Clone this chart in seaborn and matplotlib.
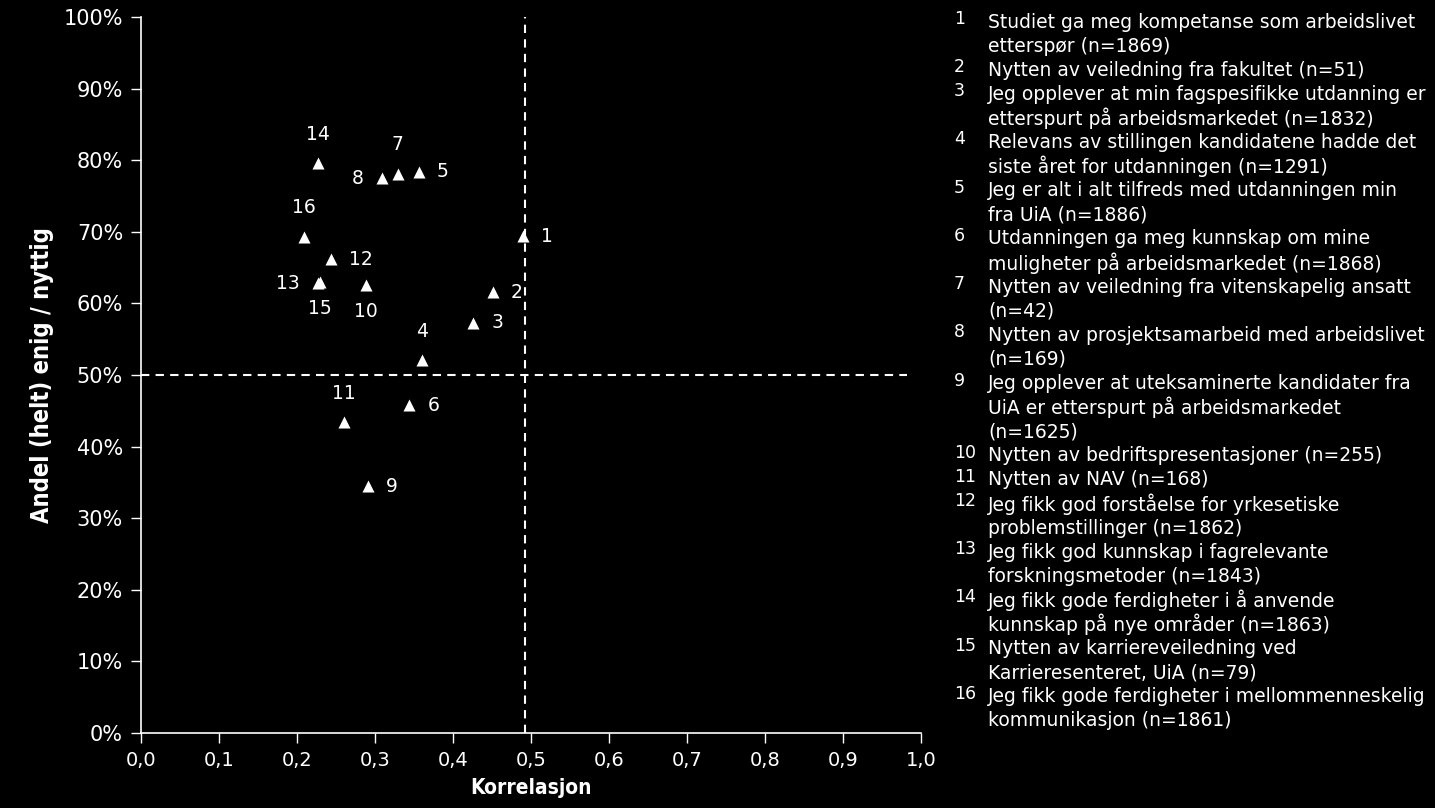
import pandas as pd
import seaborn as sns
import matplotlib.pyplot as plt
from matplotlib.ticker import PercentFormatter, FuncFormatter

# verdier lest av figuren
nummer = list(range(1, 17))
korrelasjon = [0.490, 0.451, 0.426, 0.360, 0.356, 0.344, 0.329, 0.309,
               0.291, 0.288, 0.260, 0.244, 0.227, 0.227, 0.229, 0.209]
andel_enig = [0.694, 0.616, 0.573, 0.521, 0.784, 0.458, 0.781, 0.775,
              0.345, 0.626, 0.434, 0.662, 0.628, 0.796, 0.630, 0.693]
beskrivelser = [
    'Studiet ga meg kompetanse som arbeidslivet\netterspør (n=1869)',
    'Nytten av veiledning fra fakultet (n=51)',
    'Jeg opplever at min fagspesifikke utdanning er\netterspurt på arbeidsmarkedet (n=1832)',
    'Relevans av stillingen kandidatene hadde det\nsiste året for utdanningen (n=1291)',
    'Jeg er alt i alt tilfreds med utdanningen min\nfra UiA (n=1886)',
    'Utdanningen ga meg kunnskap om mine\nmuligheter på arbeidsmarkedet (n=1868)',
    'Nytten av veiledning fra vitenskapelig ansatt\n(n=42)',
    'Nytten av prosjektsamarbeid med arbeidslivet\n(n=169)',
    'Jeg opplever at uteksaminerte kandidater fra\nUiA er etterspurt på arbeidsmarkedet\n(n=1625)',
    'Nytten av bedriftspresentasjoner (n=255)',
    'Nytten av NAV (n=168)',
    'Jeg fikk god forståelse for yrkesetiske\nproblemstillinger (n=1862)',
    'Jeg fikk god kunnskap i fagrelevante\nforskningsmetoder (n=1843)',
    'Jeg fikk gode ferdigheter i å anvende\nkunnskap på nye områder (n=1863)',
    'Nytten av karriereveiledning ved\nKarrieresenteret, UiA (n=79)',
    'Jeg fikk gode ferdigheter i mellommenneskelig\nkommunikasjon (n=1861)',
]
# hvor etiketten står i forhold til punktet
plassering = ['h', 'h', 'h', 'o', 'h', 'h', 'o', 'v',
              'h', 'u', 'o', 'h', 'v', 'o', 'u', 'o']

df = pd.DataFrame({'nr': nummer, 'korr': korrelasjon, 'andel': andel_enig})

sns.set_style('dark', rc={'axes.facecolor': 'black', 'figure.facecolor': 'black',
                          'axes.edgecolor': 'white', 'text.color': 'white',
                          'xtick.color': 'white', 'ytick.color': 'white',
                          'axes.labelcolor': 'white'})
plt.rcParams['font.family'] = ['DejaVu Sans']

fig = plt.figure(figsize=(14.35, 8.08), dpi=100)
ax = fig.add_axes([0.0983, 0.0928, 0.5435, 0.886])

sns.scatterplot(data=df, x='korr', y='andel', marker='^', color='white',
                s=75, linewidth=0, ax=ax, zorder=3)

# skillelinjer
ax.axvline(0.492, color='white', ls=(0, (4, 3)), lw=1.5, zorder=2)
ax.plot([0, 0.982], [0.5, 0.5], color='white', ls=(0, (4, 3)), lw=1.5, zorder=2)

offsets = {'h': ((13, 0), 'left', 'center'), 'v': ((-13, 0), 'right', 'center'),
           'o': ((0, 14), 'center', 'bottom'), 'u': ((0, -12), 'center', 'top')}
for nr, x, y, p in zip(nummer, korrelasjon, andel_enig, plassering):
    off, ha, va = offsets[p]
    ax.annotate(str(nr), (x, y), xytext=off, textcoords='offset points',
                ha=ha, va=va, fontsize=13.5, color='white')

ax.set_xlim(0, 1)
ax.set_ylim(0, 1)
ax.set_xticks([i / 10 for i in range(11)])
ax.set_yticks([i / 10 for i in range(11)])
ax.xaxis.set_major_formatter(FuncFormatter(lambda v, _: f'{v:.1f}'.replace('.', ',')))
ax.yaxis.set_major_formatter(PercentFormatter(1.0, decimals=0))
ax.tick_params(axis='both', length=7, width=1, direction='out',
               bottom=True, left=True, pad=6)
ax.tick_params(axis='y', labelsize=15)
ax.tick_params(axis='x', labelsize=14)
ax.grid(False)
for side in ['top', 'right']:
    ax.spines[side].set_visible(False)
ax.spines['left'].set_linewidth(1.2)
ax.spines['bottom'].set_linewidth(1.2)

ax.set_xlabel('Korrelasjon', fontsize=15, fontweight='bold', fontstretch='condensed',
              labelpad=6)
ax.set_ylabel('Andel (helt) enig / nyttig', fontsize=17, fontweight='bold',
              fontstretch='condensed', labelpad=7)

# forklaring til høyre, en tekstlinje om gangen
linjehoyde = 24.1
ysenter = 22
for nr, tekst in zip(nummer, beskrivelser):
    fig.text(954 / 1435, 1 - (ysenter - 3) / 808, str(nr), fontsize=12.5,
             color='white', ha='left', va='center')
    for linje in tekst.split('\n'):
        fig.text(988 / 1435, 1 - ysenter / 808, linje, fontsize=13.5,
                 color='white', ha='left', va='center')
        ysenter += linjehoyde

fig.savefig('out.png', dpi=100, facecolor='black')
